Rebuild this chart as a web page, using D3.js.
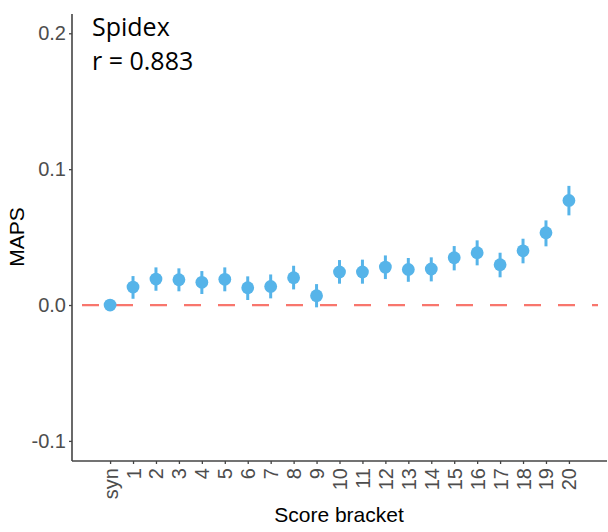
<!DOCTYPE html>
<html>
<head>
<meta charset="utf-8">
<script src="https://cdn.jsdelivr.net/npm/d3@7"></script>
<style>
  body { margin: 0; background: #fff; }
  svg { display: block; }
</style>
</head>
<body>
<svg id="chart"></svg>
<script>
var brackets = ["syn","1","2","3","4","5","6","7","8","9","10","11","12","13","14","15","16","17","18","19","20"];
var maps   = [0, 0.0132, 0.0191, 0.0186, 0.0167, 0.0189, 0.0127, 0.0137, 0.0201, 0.0069, 0.0243, 0.0243, 0.0279, 0.0262, 0.0265, 0.0348, 0.0385, 0.0297, 0.0399, 0.0532, 0.0770];
var lower  = [0, 0.0046, 0.0105, 0.0101, 0.0081, 0.0101, 0.0037, 0.0049, 0.0115, -0.0017, 0.0157, 0.0157, 0.0191, 0.0171, 0.0174, 0.0255, 0.0292, 0.0204, 0.0307, 0.0432, 0.0660];
var upper  = [0, 0.0213, 0.0277, 0.0270, 0.0250, 0.0277, 0.0211, 0.0225, 0.0289, 0.0154, 0.0331, 0.0334, 0.0365, 0.0346, 0.0351, 0.0434, 0.0476, 0.0385, 0.0488, 0.0623, 0.0877];
var yTicks = [-0.1, 0, 0.1, 0.2];
var title = "Spidex", subtitle = "r = 0.883";

var width = 608, height = 532,
    margin = {top: 14, right: 1, bottom: 71, left: 72},
    w = width - margin.left - margin.right,
    h = height - margin.top - margin.bottom;

var data = brackets.map(function(b, i) {
    return {b: b, v: maps[i], lo: lower[i], hi: upper[i]};
});

var xScale = d3.scalePoint().domain(brackets).range([0, w]).padding(1.66),
    yScale = d3.scaleLinear().domain([-0.1148, 0.2142]).range([h, 0]);

var svg = d3.select("#chart").attr("width", width).attr("height", height);
var g = svg.append("g").attr("transform", "translate(" + margin.left + "," + margin.top + ")");

// zero reference line
g.append("line")
    .attr("x1", 0).attr("x2", 526)
    .attr("y1", yScale(0)).attr("y2", yScale(0))
    .attr("stroke", "#F8766D").attr("stroke-width", 2.2)
    .attr("stroke-dasharray", "17,17").attr("stroke-dashoffset", 24);

// error bars
g.selectAll(".err").data(data).enter().append("line")
    .attr("class", "err")
    .attr("x1", function(d){return xScale(d.b)}).attr("x2", function(d){return xScale(d.b)})
    .attr("y1", function(d){return yScale(d.lo)}).attr("y2", function(d){return yScale(d.hi)})
    .attr("stroke", "#56B4E9").attr("stroke-width", 3);

g.selectAll(".pt").data(data).enter().append("circle")
    .attr("class", "pt")
    .attr("cx", function(d){return xScale(d.b)})
    .attr("cy", function(d){return yScale(d.v)})
    .attr("r", 6.4)
    .attr("fill", "#56B4E9");

// axes
var yAxis = d3.axisLeft(yScale).tickValues(yTicks).tickSize(3).tickPadding(3)
    .tickFormat(function(d){ return d3.format(".1f")(d).replace("−", "-"); });
var xAxis = d3.axisBottom(xScale).tickSize(3).tickPadding(4);

var gy = g.append("g").call(yAxis);
var gx = g.append("g").attr("transform", "translate(0," + h + ")").call(xAxis);

[gx, gy].forEach(function(a) {
    a.select(".domain").attr("stroke", "#444").attr("stroke-width", 1.6);
    a.selectAll(".tick line").attr("stroke", "#444").attr("stroke-width", 1.3);
    a.selectAll(".tick text")
        .attr("fill", "#4D4D4D")
        .style("font-family", "'Liberation Sans', Arial, sans-serif")
        .style("font-size", "20px");
});
gy.select(".domain").attr("d", "M0," + h + "V0");
gx.select(".domain").attr("d", "M0,0H" + w);

gx.selectAll(".tick text")
    .attr("transform", "rotate(-90)")
    .attr("text-anchor", "end")
    .attr("x", -7).attr("y", 0).attr("dy", "0.35em");

// axis titles
svg.append("text")
    .attr("x", 339).attr("y", 522)
    .attr("text-anchor", "middle")
    .style("font-family", "'Liberation Sans', Arial, sans-serif")
    .style("font-size", "21px")
    .text("Score bracket");

svg.append("text")
    .attr("transform", "translate(24,237) rotate(-90)")
    .attr("text-anchor", "middle")
    .style("font-family", "'Liberation Sans', Arial, sans-serif")
    .style("font-size", "21px")
    .text("MAPS");

// annotation
svg.append("text")
    .attr("x", 92).attr("y", 36)
    .style("font-family", "'Open Sans', 'Noto Sans', sans-serif")
    .style("font-size", "25px")
    .text(title);
svg.append("text")
    .attr("x", 92).attr("y", 70)
    .style("font-family", "'Open Sans', 'Noto Sans', sans-serif")
    .style("font-size", "25px")
    .text(subtitle);
</script>
</body>
</html>
